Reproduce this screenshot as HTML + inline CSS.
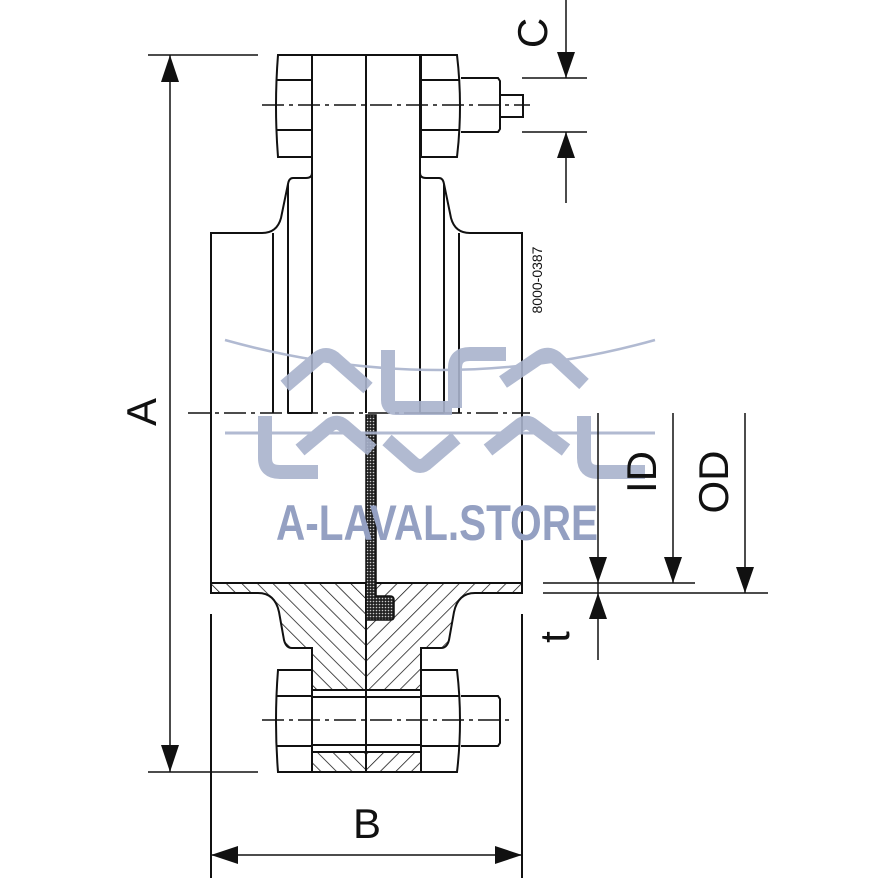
<!DOCTYPE html>
<html><head><meta charset="utf-8"><style>html,body{margin:0;padding:0;background:#fff}svg{display:block}</style></head>
<body>
<svg width="878" height="878" viewBox="0 0 878 878" xmlns="http://www.w3.org/2000/svg">
<defs>
<pattern id="hl" patternUnits="userSpaceOnUse" width="11" height="11" patternTransform="rotate(-45)"><line x1="0" y1="0" x2="0" y2="11" stroke="#111" stroke-width="1.5"/></pattern>
<pattern id="hr" patternUnits="userSpaceOnUse" width="11" height="11" patternTransform="rotate(45)"><line x1="0" y1="0" x2="0" y2="11" stroke="#111" stroke-width="1.5"/></pattern>
<pattern id="dots" patternUnits="userSpaceOnUse" width="3" height="3"><rect width="3" height="3" fill="#222"/><circle cx="1.5" cy="1.5" r="0.8" fill="#ccc"/></pattern>
</defs>
<g fill="none" stroke="#111" stroke-width="2">
<path d="M278,55 H312 V157 H278 Q274,106 278,55 Z"/>
<line x1="276" y1="80" x2="312" y2="80"/><line x1="276" y1="130" x2="312" y2="130"/>
<path d="M421,55 H457 Q463,106 457,157 H421 Z"/>
<line x1="421" y1="80" x2="459" y2="80"/><line x1="421" y1="130" x2="459" y2="130"/>
<path d="M461,78 H498 L500,81 V129 L498,132 H461"/>
<rect x="500" y="95" width="23" height="22"/>
<line x1="312" y1="55" x2="421" y2="55"/>
<line x1="312" y1="55" x2="312" y2="413"/><line x1="366" y1="55" x2="366" y2="413"/><line x1="420" y1="55" x2="420" y2="413"/>
<path d="M312,157 V173 Q312,178 306,178 H293 Q289,178 288,184 L281,218 Q277,233 262,233 H211 V590"/>
<path d="M420,157 V173 Q420,178 426,178 H439 Q443,178 444,184 L451,218 Q455,233 470,233 H522 V590"/>
<line x1="273" y1="233" x2="273" y2="413"/><line x1="288" y1="184" x2="288" y2="413"/>
<line x1="459" y1="233" x2="459" y2="413"/><line x1="444" y1="184" x2="444" y2="413"/>
<line x1="288" y1="413" x2="312" y2="413"/><line x1="420" y1="413" x2="444" y2="413"/>
</g>
<path d="M211,583 H366 V690 H312 V648 H292 Q286,648 284,640 L279,612 Q275,593 258,593 H211 Z" fill="url(#hl)" stroke="#111" stroke-width="2"/>
<path d="M522,583 H366 V690 H421 V648 H441 Q447,648 449,640 L454,612 Q458,593 475,593 H522 Z" fill="url(#hr)" stroke="#111" stroke-width="2"/>
<rect x="312" y="752" width="54" height="20" fill="url(#hl)" stroke="#111" stroke-width="2"/>
<rect x="366" y="752" width="55" height="20" fill="url(#hr)" stroke="#111" stroke-width="2"/>
<path d="M366,415 H376 V596 H390 Q394,596 394,600 V617 Q394,620 390,620 H366 Z" fill="url(#dots)" stroke="#111" stroke-width="1.5"/>
<g fill="none" stroke="#111" stroke-width="2">
<rect x="312" y="690" width="109" height="62" fill="#fff"/>
<line x1="312" y1="697" x2="421" y2="697"/><line x1="312" y1="745" x2="421" y2="745"/>
<line x1="366" y1="690" x2="366" y2="772"/>
<path d="M278,670 H312 V772 H278 Q274,721 278,670 Z" fill="#fff"/>
<line x1="276" y1="696" x2="312" y2="696"/><line x1="276" y1="746" x2="312" y2="746"/>
<path d="M421,670 H457 Q463,721 457,772 H421 Z" fill="#fff"/>
<line x1="421" y1="696" x2="459" y2="696"/><line x1="421" y1="746" x2="459" y2="746"/>
<path d="M461,696 H498 L500,699 V743 L498,746 H461"/>
<line x1="211" y1="614" x2="211" y2="878"/><line x1="522" y1="614" x2="522" y2="878"/>
</g>
<g stroke="#111" stroke-width="1.5" stroke-dasharray="22,5,4,5">
<line x1="262" y1="105" x2="530" y2="105"/>
<line x1="262" y1="720" x2="512" y2="720"/>
<line x1="188" y1="413" x2="530" y2="413"/>
</g>
<g stroke="#a9b3cd" fill="none" opacity="0.9">
<path d="M225,340 Q440,400 655,340" stroke-width="2.5"/>
<line x1="225" y1="433" x2="655" y2="433" stroke-width="3"/>
<g stroke-width="14" stroke-linejoin="round">
<path d="M285,386 L318,358 Q326,352 334,358 L368,388"/>
<path d="M388,350 V400 Q388,408 396,408 H452"/>
<path d="M455,408 V368 Q455,354 470,354 H506"/>
<path d="M503,382 L540,357 Q548,352 556,358 L584,384"/>
<path d="M265,416 V458 Q265,472 280,472 H318"/>
<path d="M300,450 L330,425 Q337,420 344,426 L372,450"/>
<path d="M387,440 L412,462 Q420,470 428,462 L456,438"/>
<path d="M488,450 L520,425 Q527,420 534,426 L566,450"/>
<path d="M584,416 V458 Q584,472 598,472 H645"/>
</g>
</g>
<text x="276" y="540" font-family="Liberation Sans, sans-serif" font-weight="bold" font-size="50" fill="#94a0c2" textLength="322" lengthAdjust="spacingAndGlyphs">A-LAVAL.STORE</text>
<g stroke="#111" stroke-width="1.5" fill="none">
<line x1="148" y1="55" x2="258" y2="55"/><line x1="148" y1="772" x2="258" y2="772"/>
<line x1="170" y1="55" x2="170" y2="772"/>
<line x1="211" y1="855" x2="522" y2="855"/>
<line x1="566" y1="0" x2="566" y2="78"/><line x1="566" y1="132" x2="566" y2="203"/>
<line x1="522" y1="78" x2="587" y2="78"/><line x1="522" y1="132" x2="587" y2="132"/>
<line x1="598" y1="413" x2="598" y2="660"/>
<line x1="673" y1="413" x2="673" y2="583"/>
<line x1="745" y1="413" x2="745" y2="593"/>
<line x1="543" y1="583" x2="695" y2="583"/><line x1="543" y1="593" x2="768" y2="593"/>
</g>
<g fill="#111">
<path d="M170,55 L161,82 L179,82 Z"/><path d="M170,772 L161,745 L179,745 Z"/>
<path d="M211,855 L238,846 L238,864 Z"/><path d="M522,855 L495,846 L495,864 Z"/>
<path d="M566,78 L557,52 L575,52 Z"/><path d="M566,132 L557,158 L575,158 Z"/>
<path d="M598,583 L589,557 L607,557 Z"/><path d="M598,593 L589,619 L607,619 Z"/>
<path d="M673,583 L664,557 L682,557 Z"/><path d="M745,593 L736,567 L754,567 Z"/>
</g>
<g font-family="Liberation Sans, sans-serif" fill="#111">
<text x="156" y="412" font-size="42" text-anchor="middle" transform="rotate(-90 156 412)">A</text>
<text x="367" y="838" font-size="42" text-anchor="middle">B</text>
<text x="547" y="33" font-size="42" text-anchor="middle" transform="rotate(-90 547 33)">C</text>
<text x="656" y="472" font-size="42" text-anchor="middle" transform="rotate(-90 656 472)">ID</text>
<text x="728" y="482" font-size="42" text-anchor="middle" transform="rotate(-90 728 482)">OD</text>
<text x="569" y="637" font-size="42" text-anchor="middle" transform="rotate(-90 569 637)">t</text>
<text x="542" y="280" font-size="14" text-anchor="middle" transform="rotate(-90 542 280)">8000-0387</text>
</g>
</svg>
</body></html>
